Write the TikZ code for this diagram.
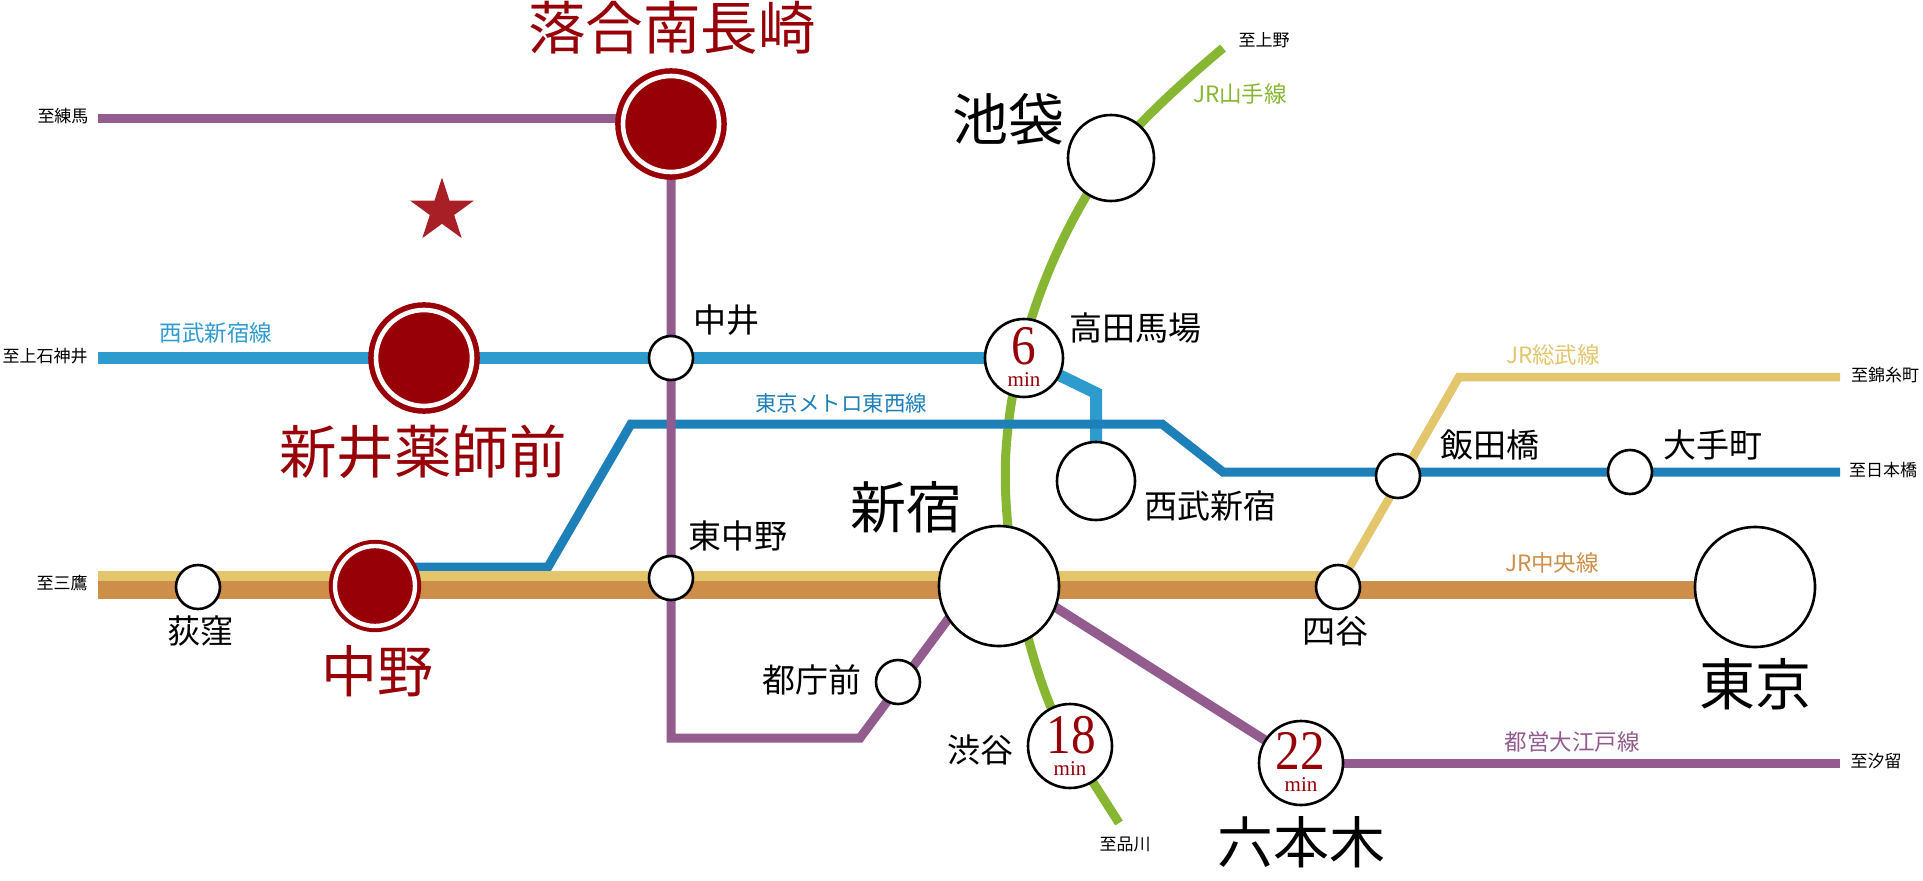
\documentclass[tikz,border=0pt]{standalone}
\usepackage{fontspec}
\setmainfont{Liberation Serif}
\newfontfamily\cjk{Noto Sans CJK JP}
\newfontfamily\timefont[FakeStretch=0.88]{Liberation Serif}
\usetikzlibrary{backgrounds,shapes.geometric}

\definecolor{mainred}{HTML}{960006}
\definecolor{starred}{HTML}{A81F26}
\definecolor{ringblack}{HTML}{000000}
\definecolor{chuoorange}{HTML}{CC8E48}
\definecolor{sobuyellow}{HTML}{E3C56C}
\definecolor{oedopurple}{HTML}{925C8F}
\definecolor{seibublue}{HTML}{2E9BCF}
\definecolor{tozaiblue}{HTML}{1D80B8}
\definecolor{yamanotegreen}{HTML}{87B732}

\tikzset{
  station/.style={circle, draw=ringblack, fill=white, line width=2.6pt, inner sep=0pt, minimum size=#1},
  hubstation/.style={circle, draw=mainred, fill=mainred, double=white, inner sep=0pt},
  hublarge/.style={hubstation, line width=5.5pt, double distance=4.6pt, minimum size=96pt},
  hubsmall/.style={hubstation, line width=4pt, double distance=4.4pt, minimum size=80pt},
  railline/.style={line width=#1, line join=miter},
  bigred/.style={inner sep=0pt, text=mainred, font=\cjk\fontsize{57.5}{58}\selectfont},
  bigblack/.style={inner sep=0pt, font=\cjk\fontsize{56}{56}\selectfont},
  midlabel/.style={inner sep=0pt, font=\cjk\fontsize{33}{33}\selectfont},
  linelabel/.style={inner sep=0pt, font=\cjk\fontsize{22.5}{23}\selectfont},
  dirlabel/.style={inner sep=0pt, font=\cjk\fontsize{17}{17}\selectfont},
  timenum/.style={inner sep=0pt, text=mainred, font=\timefont\fontsize{56}{56}\selectfont},
  timemin/.style={inner sep=0pt, text=mainred, font=\fontsize{21}{21}\selectfont}
}

\begin{document}
\begin{tikzpicture}[x=1pt, y=-1pt]
\useasboundingbox (0,0) rectangle (1923,881);

% stations
\node[hublarge] (ochiai) at (671,124) {};
\node[hublarge] (arai) at (424,358) {};
\node[hubsmall] (nakano) at (375,586) {};
\node[station=44pt] (nakai) at (671,358) {};
\node[station=44pt] (higashinakano) at (671,578) {};
\node[station=44pt] (ogikubo) at (198,587) {};
\node[station=44pt] (tochomae) at (898,682) {};
\node[station=44pt] (yotsuya) at (1338,587) {};
\node[station=44pt] (iidabashi) at (1398,476) {};
\node[station=44pt] (otemachi) at (1630,472) {};
\node[station=78pt] (takadanobaba) at (1024,358) {};
\node[station=78pt] (seibushinjuku) at (1096,481) {};
\node[station=86pt] (ikebukuro) at (1111,158) {};
\node[station=84pt] (shibuya) at (1070,746) {};
\node[station=84pt] (roppongi) at (1301,763) {};
\node[station=120pt] (shinjuku) at (999,586) {};
\node[station=120pt] (tokyo) at (1755,587) {};

% free ends of the lines
\coordinate (tonerima) at (98,118);
\coordinate (tokamiiguse) at (98,358);
\coordinate (tomitaka) at (98,590);
\coordinate (tomitakay) at (98,576);
\coordinate (toueno) at (1223,48);
\coordinate (toshinagawa) at (1119,823);
\coordinate (tokinshicho) at (1840,377);
\coordinate (tonihonbashi) at (1840,472);
\coordinate (toshiodome) at (1840,763);
\coordinate (oedoleft) at (671,738);
\coordinate (oedobend) at (860,738);
\coordinate (oedojoin) at (960,603);
\coordinate (oedostart) at (1022,586);
\coordinate (tozaibendA) at (548,567);
\coordinate (tozaibendB) at (631,424);
\coordinate (tozaibendC) at (1162,424);
\coordinate (tozaibendD) at (1223,472);
\coordinate (sobubend) at (1459,377);
\coordinate (seibubend) at (1096,393);
\coordinate (yamanotemid) at (1006,450);

\begin{scope}[on background layer]
  \draw[railline=12pt, seibublue] (tokamiiguse) -- (takadanobaba.center);
  \draw[railline=12pt, seibublue] (takadanobaba.center) -- (seibubend) -- (seibushinjuku.center);
  \draw[railline=9pt, yamanotegreen] (toueno) .. controls (1185,80) and (1135,125) .. (ikebukuro.center)
    .. controls (1070,215) and (1015,320) .. (yamanotemid)
    .. controls (1000,540) and (1030,680) .. (shibuya.center) -- (toshinagawa);
  \draw[railline=9pt, tozaiblue] (nakano.center) |- (tozaibendA) -- (tozaibendB) -- (tozaibendC) -- (tozaibendD) -- (tonihonbashi);
  \draw[railline=9pt, oedopurple] (tonerima) -| (ochiai.center);
  \draw[railline=9pt, oedopurple] (ochiai.center) -- (oedoleft) -- (oedobend) -- (oedojoin);
  \draw[railline=9.5pt, oedopurple] (oedostart) -- (roppongi.center);
  \draw[railline=9pt, oedopurple] (roppongi.center) -- (toshiodome);
  \draw[railline=10pt, sobuyellow] (tomitakay) -- (1338,576);
  \draw[railline=8.5pt, sobuyellow] (yotsuya.center) -- (sobubend) -- (tokinshicho);
  \draw[railline=18pt, chuoorange] (tomitaka) -- (tokyo.center |- tomitaka);
\end{scope}

% big red names
\node[bigred] (ochiailabel) at (672,28) {落合南長崎};
\node[bigred] (arailabel) at (423,452) {新井薬師前};
\node[bigred, font=\cjk\fontsize{56}{56}\selectfont] (nakanolabel) at (377,671) {中野};

% big black names
\node[bigblack] (ikebukurolabel) at (1008,119) {池袋};
\node[bigblack] (shinjukulabel) at (906,507) {新宿};
\node[bigblack] (tokyolabel) at (1755,684) {東京};
\node[bigblack] (roppongilabel) at (1301,842) {六本木};

% middle names
\node[midlabel] (nakailabel) at (726,320) {中井};
\node[midlabel] (higashinakanolabel) at (738,536) {東中野};
\node[midlabel] (ogikubolabel) at (200,631) {荻窪};
\node[midlabel] (tochomaelabel) at (812,680) {都庁前};
\node[midlabel] (shibuyalabel) at (980,750) {渋谷};
\node[midlabel] (takadanobabalabel) at (1135,328) {高田馬場};
\node[midlabel] (seibushinjukulabel) at (1210,506) {西武新宿};
\node[midlabel] (iidabashilabel) at (1490,445) {飯田橋};
\node[midlabel] (otemachilabel) at (1713,445) {大手町};
\node[midlabel] (yotsuyalabel) at (1335,631) {四谷};

% line names
\node[linelabel, text=seibublue] (seibuname) at (216,333) {西武新宿線};
\node[linelabel, text=tozaiblue, font=\cjk\fontsize{21.5}{22}\selectfont] (tozainame) at (841,403) {東京メトロ東西線};
\node[linelabel, text=yamanotegreen] (yamanotename) at (1240,94) {JR{\cjk 山手線}};
\node[linelabel, text=sobuyellow] (sobuname) at (1553,355) {JR{\cjk 総武線}};
\node[linelabel, text=chuoorange] (chuoname) at (1552,563) {JR{\cjk 中央線}};
\node[linelabel, text=oedopurple] (oedoname) at (1572,742) {都営大江戸線};

% where the lines go
\node[dirlabel] (dirnerima) at (63,116) {至練馬};
\node[dirlabel] (dirkamiigusa) at (45,356) {至上石神井};
\node[dirlabel] (dirmitaka) at (62,583) {至三鷹};
\node[dirlabel] (dirueno) at (1264,40) {至上野};
\node[dirlabel] (dirkinshicho) at (1885,375) {至錦糸町};
\node[dirlabel] (dirnihonbashi) at (1883,470) {至日本橋};
\node[dirlabel] (dirshiodome) at (1876,761) {至汐留};
\node[dirlabel] (dirshinagawa) at (1125,844) {至品川};

% minutes
\node[timenum] (takadanum) at (1024,346) {6};
\node[timemin] (takadamin) at (1024,380) {min};
\node[timenum] (shibuyanum) at (1071,735) {18};
\node[timemin] (shibuyamin) at (1070,769) {min};
\node[timenum] (roppongiunum) at (1300,751) {22};
\node[timemin] (roppongimin) at (1301,785) {min};

\node[star, star points=5, star point ratio=2.618, fill=starred, inner sep=0pt, minimum size=67pt] (herestar) at (442,211) {};

\end{tikzpicture}
\end{document}
